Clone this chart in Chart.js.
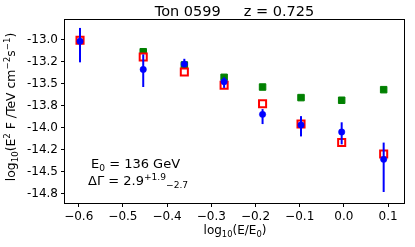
<!DOCTYPE html>
<html>
<head>
<meta charset="utf-8">
<script src="https://cdn.jsdelivr.net/npm/chart.js@4"></script>
<style>
  body { margin: 0; background: #fff; }
  #wrap { width: 415px; height: 247px; }
</style>
</head>
<body>
<div id="wrap"><canvas id="sed"></canvas></div>
<script>
// log10(E/E0) of each energy bin
const energyBins = [-0.597, -0.454, -0.361, -0.271, -0.184, -0.097, -0.005, 0.090];

// series values, log10(E^2 F)
const greenModel = [-13.01, -13.14, -13.29, -13.43, -13.54, -13.66, -13.69, -13.57];
const redModel = [-13.01, -13.20, -13.37, -13.52, -13.73, -13.96, -14.17, -14.30];
const bluePoints = [-13.02, -13.34, -13.28, -13.48, -13.85, -13.97, -14.05, -14.36];
const blueLow = [-13.26, -13.54, -13.31, -13.55, -13.96, -14.10, -14.19, -14.73];
const blueHigh = [-12.87, -13.17, -13.22, -13.43, -13.79, -13.87, -13.94, -14.17];

// tick positions and labels
const xTicks = [-0.6, -0.5, -0.4, -0.3, -0.2, -0.1, 0.0, 0.1];
const xTickLabels = ['\u22120.6', '\u22120.5', '\u22120.4', '\u22120.3', '\u22120.2', '\u22120.1', '0.0', '0.1'];
const yTicks = [-13.0, -13.25, -13.5, -13.75, -14.0, -14.25, -14.5, -14.75];
const yTickLabels = ['-13.0', '-13.2', '-13.5', '-13.8', '-14.0', '-14.2', '-14.5', '-14.8'];

const FONT = 'DejaVu Sans, sans-serif';

function toPoints(ys) {
    return energyBins.map((x, i) => ({ x: x, y: ys[i] }));
}

// texte avec indices / exposants : parts = [[texte, 'n'|'sub'|'sup'], ...]
function richWidth(ctx, parts, size) {
    let w = 0;
    parts.forEach(([t, mode]) => {
        const s = mode === 'n' ? size : size * 0.7;
        ctx.font = s + 'px ' + FONT;
        w += ctx.measureText(t).width;
    });
    return w;
}

function drawRich(ctx, parts, x, y, size, align) {
    let cx = x;
    if (align === 'center') cx = x - richWidth(ctx, parts, size) / 2;
    ctx.textBaseline = 'alphabetic';
    ctx.textAlign = 'left';
    parts.forEach(([t, mode]) => {
        const s = mode === 'n' ? size : size * 0.7;
        let dy = 0;
        if (mode === 'sub') dy = size * 0.22;
        if (mode === 'sup') dy = -size * 0.42;
        ctx.font = s + 'px ' + FONT;
        ctx.fillText(t, cx, y + dy);
        cx += ctx.measureText(t).width;
    });
}

// barres d'erreur de la série bleue
const errorBars = {
    id: 'errorBars',
    beforeDatasetDraw(chart, args) {
        if (args.index !== 2) return;
        const { ctx, scales } = chart;
        ctx.save();
        ctx.strokeStyle = '#0000ff';
        ctx.lineWidth = 2;
        energyBins.forEach((x, i) => {
            const px = scales.x.getPixelForValue(x);
            ctx.beginPath();
            ctx.moveTo(px, scales.y.getPixelForValue(blueLow[i]));
            ctx.lineTo(px, scales.y.getPixelForValue(blueHigh[i]));
            ctx.stroke();
        });
        ctx.restore();
    }
};

// cadre, titre, légendes des axes et annotation
const decorations = {
    id: 'decorations',
    afterDraw(chart) {
        const { ctx, chartArea: a } = chart;
        ctx.save();
        ctx.strokeStyle = '#000';
        ctx.lineWidth = 1;
        ctx.strokeRect(Math.round(a.left) - 0.5, Math.round(a.top) - 0.5,
            Math.round(a.right - a.left) + 1, Math.round(a.bottom - a.top) + 1);

        ctx.fillStyle = '#000';
        ctx.font = '14.5px ' + FONT;
        ctx.textAlign = 'center';
        ctx.textBaseline = 'alphabetic';
        ctx.fillText('Ton 0599     z = 0.725', 234.5, 16);

        drawRich(ctx, [['log', 'n'], ['10', 'sub'], ['(E/E', 'n'], ['0', 'sub'], [')', 'n']],
            235, 234, 12, 'center');

        ctx.save();
        ctx.translate(15, 107);
        ctx.rotate(-Math.PI / 2);
        drawRich(ctx, [['log', 'n'], ['10', 'sub'], ['(E', 'n'], ['2', 'sup'], [' F /TeV cm', 'n'],
            ['\u22122', 'sup'], ['s', 'n'], ['\u22121', 'sup'], [')', 'n']], 0, 0, 12.4, 'center');
        ctx.restore();

        drawRich(ctx, [['E', 'n'], ['0', 'sub'], [' = 136 GeV', 'n']], 91, 168, 13, 'left');
        drawRich(ctx, [['\u0394\u0393 = 2.9', 'n'], ['+1.9', 'sup'], ['\u22122.7', 'sub']], 88, 185, 13, 'left');
        ctx.restore();
    }
};

const tickGrid = {
    drawOnChartArea: false,
    drawTicks: true,
    tickLength: 4,
    color: '#000'
};

new Chart(document.getElementById('sed'), {
    type: 'scatter',
    data: {
        datasets: [
            {
                label: 'green',
                data: toPoints(greenModel),
                order: 3,
                pointStyle: 'rect',
                pointRadius: 4.6,
                pointBackgroundColor: '#008000',
                pointBorderColor: '#008000',
                pointBorderWidth: 1
            },
            {
                label: 'red',
                data: toPoints(redModel),
                order: 2,
                pointStyle: 'rect',
                pointRadius: 5,
                pointBackgroundColor: '#ffffff',
                pointBorderColor: '#ff0000',
                pointBorderWidth: 2
            },
            {
                label: 'blue',
                data: toPoints(bluePoints),
                order: 1,
                pointStyle: 'circle',
                pointRadius: 3.2,
                pointBackgroundColor: '#0000ff',
                pointBorderColor: '#0000ff',
                pointBorderWidth: 0.5
            }
        ]
    },
    options: {
        responsive: true,
        maintainAspectRatio: false,
        animation: false,
        layout: { padding: { top: 20, right: 11, left: 0, bottom: 0 } },
        plugins: {
            legend: { display: false },
            tooltip: { enabled: false }
        },
        scales: {
            x: {
                type: 'linear',
                min: -0.631,
                max: 0.136,
                afterFit(scale) { scale.height = 44; },
                afterBuildTicks(scale) { scale.ticks = xTicks.map(v => ({ value: v })); },
                grid: tickGrid,
                border: { display: false },
                ticks: {
                    color: '#000',
                    padding: 3,
                    maxRotation: 0,
                    autoSkip: false,
                    font: { family: FONT, size: 12 },
                    callback: (v) => {
                        const i = xTicks.findIndex(t => Math.abs(t - v) < 1e-6);
                        return i >= 0 ? xTickLabels[i] : '';
                    }
                }
            },
            y: {
                type: 'linear',
                min: -14.855,
                max: -12.78,
                afterFit(scale) { scale.width = 65; },
                afterBuildTicks(scale) { scale.ticks = yTicks.map(v => ({ value: v })); },
                grid: tickGrid,
                border: { display: false },
                ticks: {
                    color: '#000',
                    padding: 3,
                    autoSkip: false,
                    font: { family: FONT, size: 12 },
                    callback: (v) => {
                        const i = yTicks.findIndex(t => Math.abs(t - v) < 1e-6);
                        return i >= 0 ? yTickLabels[i] : '';
                    }
                }
            }
        }
    },
    plugins: [errorBars, decorations]
});
</script>
</body>
</html>
